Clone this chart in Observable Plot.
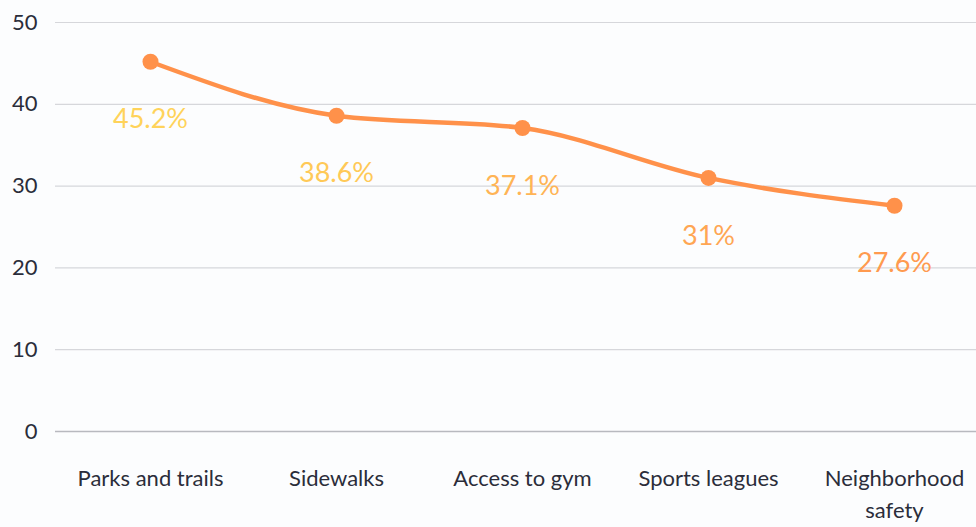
<!DOCTYPE html>
<html>
<head>
<meta charset="utf-8">
<script src="https://cdn.jsdelivr.net/npm/d3@7"></script>
<script src="https://cdn.jsdelivr.net/npm/@observablehq/plot@0.6"></script>
<style>
  html, body { margin: 0; padding: 0; background: #fcfdfe; }
  #chart svg { display: block; }
</style>
</head>
<body>
<div id="chart"></div>
<script>
const categories = ["Parks and trails", "Sidewalks", "Access to gym", "Sports leagues", "Neighborhood safety"];
const values = [45.2, 38.6, 37.1, 31, 27.6];
const labels = ["45.2%", "38.6%", "37.1%", "31%", "27.6%"];
const labelColors = ["#ffd35a", "#ffc957", "#ffb455", "#ffa653", "#ff9a4f"];
const yTicks = [0, 10, 20, 30, 40, 50];

const data = categories.map((c, i) => ({cat: c, value: values[i], label: labels[i], color: labelColors[i]}));
const lineColor = "#ff914a";
const font = "Lato, 'Open Sans', sans-serif";

const chart = Plot.plot({
  width: 976,
  height: 527,
  marginTop: 22,
  marginBottom: 96,
  marginLeft: 55,
  marginRight: 0,
  style: {background: "#fcfdfe", fontFamily: font, fontSize: "22px", color: "#2b2d3a"},
  x: {type: "point", domain: categories, range: [148, 895], padding: 0, label: null},
  y: {domain: [0, 50], label: null},
  marks: [
    Plot.ruleY(yTicks.filter(d => d > 0), {stroke: "#d6d7db", strokeWidth: 1.2}),
    Plot.ruleY([0], {stroke: "#b8b9bf", strokeWidth: 1.5}),
    Plot.axisY({ticks: yTicks, tickSize: 0, tickPadding: 18, label: null, fontSize: 22, fill: "#2b2d3a"}),
    Plot.axisX({tickSize: 0, tickPadding: 32, label: null, fontSize: 22, fill: "#2b2d3a",
      lineWidth: Infinity, lineHeight: 1.45,
      tickFormat: d => d === "Neighborhood safety" ? "Neighborhood\nsafety" : d}),
    Plot.line(data, {x: "cat", y: "value", stroke: lineColor, strokeWidth: 4.5, curve: "monotone-x"}),
    Plot.dot(data, {x: "cat", y: "value", r: 8, fill: lineColor, stroke: "none"}),
    Plot.text(data, {x: "cat", y: "value", text: "label", fill: d => d.color, fontSize: 27, dy: 58})
  ]
});
document.getElementById("chart").append(chart);
</script>
</body>
</html>
